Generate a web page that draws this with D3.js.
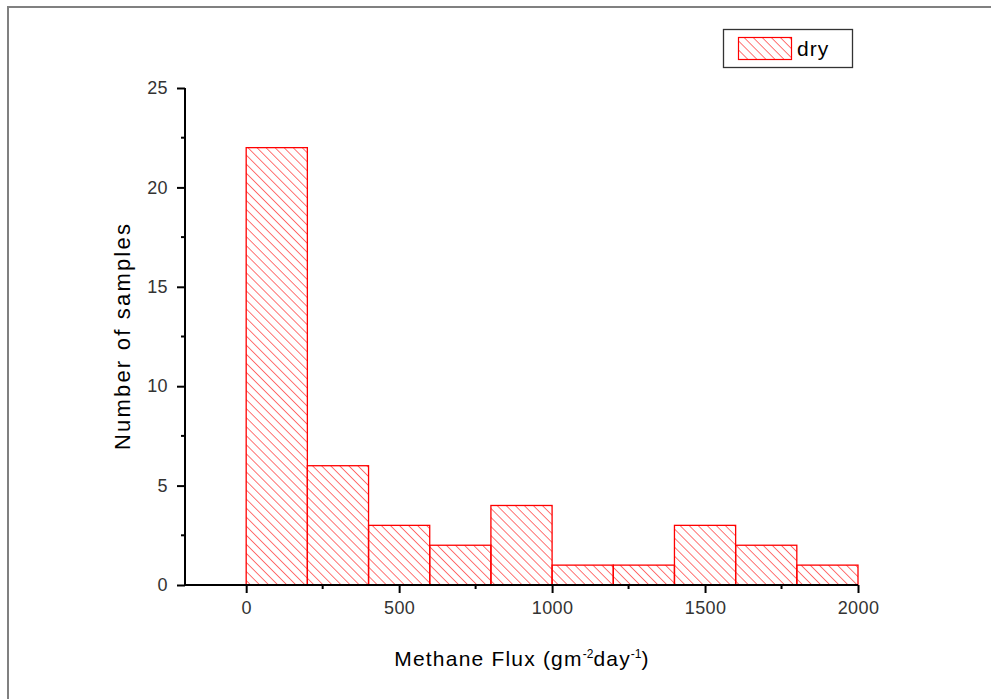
<!DOCTYPE html>
<html><head><meta charset="utf-8">
<script src="https://cdn.jsdelivr.net/npm/d3@7"></script>
<style>body{margin:0;background:#fff}svg{display:block}</style>
</head><body>
<svg id="c" width="991" height="699"></svg>
<script>
const binStarts = [0,200,400,600,800,1000,1200,1400,1600,1800];
const binWidth = 200;
const counts = [22,6,3,2,4,1,1,3,2,1];
const xTicks = [0,500,1000,1500,2000];
const xMinor = [250,750,1250,1750];
const yTicks = [0,5,10,15,20,25];
const yMinor = [2.5,7.5,12.5,17.5,22.5];
const seriesName = "dry";

const svg = d3.select("#c");
const font = "'Liberation Sans', Arial, sans-serif";
// frame
svg.append("path").attr("d","M8,699 L8,7 L991,7").attr("fill","none").attr("stroke","#808080").attr("stroke-width",2);

const x = d3.scaleLinear().domain([-200,2000]).range([185,858]);
const y = d3.scaleLinear().domain([0,25]).range([585,88]);

const defs = svg.append("defs");
const pat = defs.append("pattern").attr("id","hatch").attr("patternUnits","userSpaceOnUse")
  .attr("width",6.4).attr("height",6.4).attr("patternTransform","rotate(-45)");
pat.append("line").attr("x1",0).attr("y1",0).attr("x2",0).attr("y2",6.4)
  .attr("stroke","#ff2a2a").attr("stroke-width",1.3);

const data = binStarts.map((s,i)=>({s, c:counts[i]}));
svg.append("g").selectAll("rect").data(data).join("rect")
  .attr("x",d=>x(d.s)).attr("width",d=>x(d.s+binWidth)-x(d.s))
  .attr("y",d=>y(d.c)).attr("height",d=>y(0)-y(d.c))
  .attr("fill","url(#hatch)").attr("stroke","#ff0000").attr("stroke-width",1.3);

// axes
const xa = svg.append("g").attr("transform",`translate(0,${y(0)})`)
  .call(d3.axisBottom(x).tickValues(xTicks).tickFormat(d3.format("d")).tickSize(8).tickPadding(8).tickSizeOuter(0));
const ya = svg.append("g").attr("transform",`translate(${x(-200)},0)`)
  .call(d3.axisLeft(y).tickValues(yTicks).tickFormat(d3.format("d")).tickSize(8).tickPadding(9).tickSizeOuter(0));
[xa,ya].forEach(a=>{
  a.select(".domain").attr("stroke","#000").attr("stroke-width",2);
  a.selectAll(".tick line").attr("stroke","#000").attr("stroke-width",2);
  a.selectAll("text").attr("font-family",font).attr("font-size",18)
    .attr("letter-spacing","0.4px").attr("fill","#333");
});
xa.select(".domain").attr("d",`M${x(-200)-1},0H${x(2000)}`);
ya.select(".domain").attr("d",`M0,${y(0)+1}V${y(25)}`);
svg.append("g").selectAll("line").data(xMinor).join("line")
  .attr("x1",d=>x(d)).attr("x2",d=>x(d)).attr("y1",y(0)).attr("y2",y(0)+4)
  .attr("stroke","#000").attr("stroke-width",2);
svg.append("g").selectAll("line").data(yMinor).join("line")
  .attr("y1",d=>y(d)).attr("y2",d=>y(d)).attr("x1",x(-200)).attr("x2",x(-200)-4)
  .attr("stroke","#000").attr("stroke-width",2);

// axis titles
const xt = svg.append("text").attr("x",522).attr("y",666).attr("text-anchor","middle")
  .attr("font-family",font).attr("font-size",21).attr("letter-spacing","1.2px").attr("fill","#000");
xt.append("tspan").text("Methane Flux (gm");
xt.append("tspan").attr("dy",-8).attr("font-size",12).attr("letter-spacing","0px").text("-2");
xt.append("tspan").attr("dy",8).text("day");
xt.append("tspan").attr("dy",-8).attr("font-size",12).attr("letter-spacing","0px").text("-1");
xt.append("tspan").attr("dy",8).text(")");
svg.append("text").attr("transform","translate(130,336) rotate(-90)").attr("text-anchor","middle")
  .attr("font-family",font).attr("font-size",22).attr("letter-spacing","2.2px").attr("fill","#000").text("Number of samples");

// legend
const lg = svg.append("g");
lg.append("rect").attr("x",723.5).attr("y",29.5).attr("width",129).attr("height",38)
  .attr("fill","#fff").attr("stroke","#333").attr("stroke-width",1.3);
lg.append("rect").attr("x",738.5).attr("y",37.5).attr("width",53).attr("height",22)
  .attr("fill","url(#hatch)").attr("stroke","#ff0000").attr("stroke-width",1.2);
lg.append("text").attr("x",797).attr("y",56).attr("font-family",font).attr("font-size",21)
  .attr("letter-spacing","1px").attr("fill","#000").text(seriesName);
</script>
</body></html>
